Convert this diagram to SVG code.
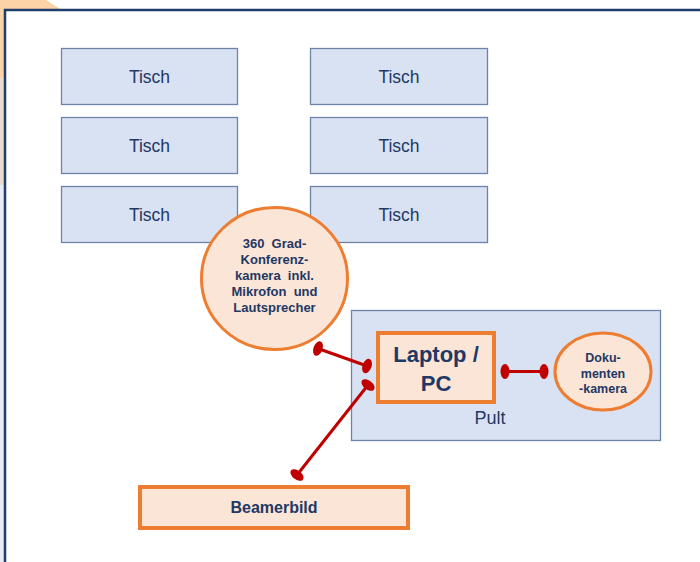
<svg xmlns="http://www.w3.org/2000/svg" width="700" height="562" viewBox="0 0 700 562">
<style>
.tisch{fill:#d9e2f3;stroke:#6d83a8;stroke-width:1.3}
.ttxt{font-family:"Liberation Sans",Arial,sans-serif;font-size:17.5px;fill:#1f3864;text-anchor:middle}
.obox{fill:#fbe5d6;stroke:#ed7d31;stroke-width:4}
.bold{font-family:"Liberation Sans",Arial,sans-serif;font-weight:bold;fill:#1f3864;text-anchor:middle}
.conn{stroke:#c00000;stroke-width:3;fill:none;marker-start:url(#dot);marker-end:url(#dot)}
</style>
<defs>
<marker id="dot" viewBox="-5 -8 10 16" markerWidth="10" markerHeight="16" refX="0" refY="0" orient="auto" markerUnits="userSpaceOnUse">
<ellipse cx="0" cy="0" rx="4.5" ry="7.5" fill="#c00000"/>
</marker>
</defs>
<rect x="0" y="0" width="700" height="562" fill="#ffffff"/>
<g id="background">
<polygon points="0,0 46,0 60,9 0,9" fill="#fcd3a6"/>
<rect x="0" y="0" width="5" height="78" fill="#fcd3a6"/>
<rect x="0" y="78" width="5" height="107" fill="#ecdcd0"/>
<rect x="0" y="185" width="5" height="377" fill="#e8eaf4"/>
<rect x="5" y="10" width="720" height="600" fill="#ffffff" stroke="#1f3e6d" stroke-width="2.5"/>
</g>
<g id="tisch1"><rect class="tisch" x="61.5" y="48.5" width="176" height="56"/><text class="ttxt" x="149.5" y="82.5">Tisch</text></g>
<g id="tisch2"><rect class="tisch" x="310.5" y="48.5" width="177" height="56"/><text class="ttxt" x="399" y="82.5">Tisch</text></g>
<g id="tisch3"><rect class="tisch" x="61.5" y="117.5" width="176" height="56"/><text class="ttxt" x="149.5" y="151.5">Tisch</text></g>
<g id="tisch4"><rect class="tisch" x="310.5" y="117.5" width="177" height="56"/><text class="ttxt" x="399" y="151.5">Tisch</text></g>
<g id="tisch5"><rect class="tisch" x="61.5" y="186.5" width="176" height="56"/><text class="ttxt" x="149.5" y="220.5">Tisch</text></g>
<g id="tisch6"><rect class="tisch" x="310.5" y="186.5" width="177" height="56"/><text class="ttxt" x="399" y="220.5">Tisch</text></g>
<g id="pult">
<rect x="351.5" y="310.5" width="309" height="130" fill="#d9e2f3" stroke="#6d83a8" stroke-width="1.3"/>
<text x="490" y="424" font-family="'Liberation Sans',Arial,sans-serif" font-size="18" fill="#1f3864" text-anchor="middle">Pult</text>
</g>
<g id="kamera360">
<ellipse cx="274.5" cy="278.5" rx="73" ry="71" fill="#fbe5d6" stroke="#ed7d31" stroke-width="3"/>
<text class="bold" font-size="13" x="274.5" y="248" xml:space="preserve">360  Grad-</text>
<text class="bold" font-size="13" x="274.5" y="264">Konferenz-</text>
<text class="bold" font-size="13" x="274.5" y="280" xml:space="preserve">kamera  inkl.</text>
<text class="bold" font-size="13" x="274.5" y="296" xml:space="preserve">Mikrofon  und</text>
<text class="bold" font-size="13" x="274.5" y="312">Lautsprecher</text>
</g>
<g id="laptop">
<rect class="obox" x="378" y="333" width="116" height="69"/>
<text class="bold" font-size="22" x="436" y="362">Laptop /</text>
<text class="bold" font-size="22" x="436" y="391">PC</text>
</g>
<g id="dokumentenkamera">
<ellipse cx="603" cy="371.5" rx="48" ry="38.5" fill="#fbe5d6" stroke="#ed7d31" stroke-width="3"/>
<text class="bold" font-size="12.5" x="603" y="362">Doku-</text>
<text class="bold" font-size="12.5" x="603" y="377.5">menten</text>
<text class="bold" font-size="12.5" x="603" y="393">-kamera</text>
</g>
<g id="beamerbild">
<rect class="obox" x="140" y="487" width="268" height="41"/>
<text class="bold" font-size="16" x="274" y="512.5">Beamerbild</text>
</g>
<g id="connectors">
<line class="conn" x1="318" y1="348.5" x2="367" y2="366"/>
<line class="conn" x1="368" y1="385" x2="297" y2="475"/>
<line class="conn" x1="505" y1="371.5" x2="544" y2="371.5"/>
</g>
</svg>
